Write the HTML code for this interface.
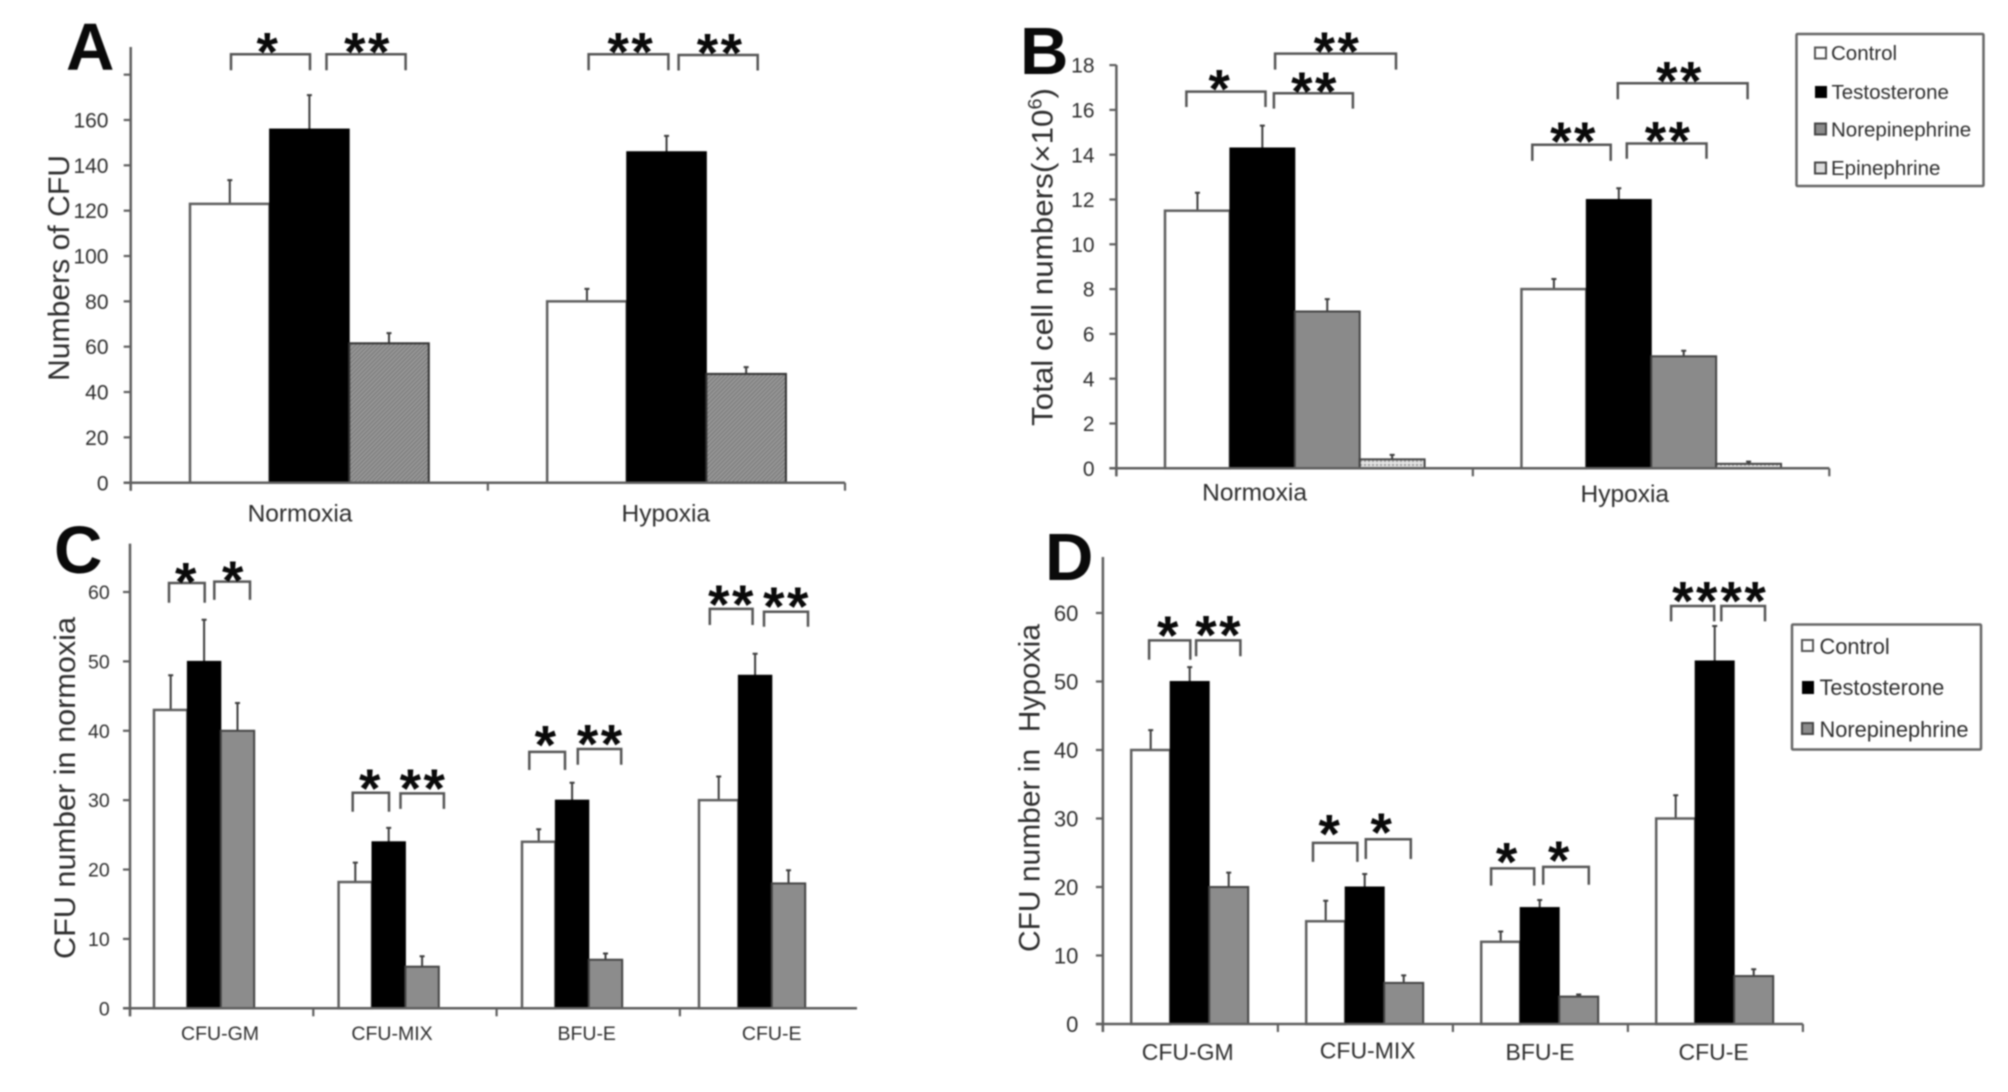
<!DOCTYPE html>
<html lang="en">
<head>
<meta charset="utf-8">
<title>CFU and total cell numbers under normoxia and hypoxia</title>
<style>
html,body{margin:0;padding:0;background:#fff;}
body{width:2008px;height:1092px;overflow:hidden;}
#figure{display:block;filter:blur(0.7px);}
text{font-family:"Liberation Sans",sans-serif;fill:#2e2e2e;}
.letter{font-weight:bold;font-size:67px;fill:#0a0a0a;}
.ytitle{font-size:30px;fill:#2e2e2e;}
.legend-box{fill:#fff;stroke:#666;stroke-width:2.5;}
</style>
</head>
<body>
<svg id="figure" xmlns="http://www.w3.org/2000/svg" width="2008" height="1092" viewBox="0 0 2008 1092">
  <defs>
    <pattern id="hatch" width="3" height="3" patternUnits="userSpaceOnUse" patternTransform="rotate(45)">
      <rect width="3" height="3" fill="#979797"></rect>
      <rect width="1" height="3" fill="#767676"></rect>
    </pattern>
    <pattern id="dots" width="4" height="4" patternUnits="userSpaceOnUse">
      <rect width="4" height="4" fill="#e4e4e4"></rect>
      <rect width="2" height="2" fill="#a0a0a0"></rect>
    </pattern>
  </defs>
  <rect width="2008" height="1092" fill="#fff"></rect>

  <g id="panel-a">
    <text class="letter" x="66" y="70">A</text>
    <text class="ytitle" transform="translate(69,381) rotate(-90)" textLength="226" lengthAdjust="spacingAndGlyphs">Numbers of CFU</text>
  </g>
  <g id="panel-b">
    <text class="letter" x="1020" y="74">B</text>
    <text class="ytitle" transform="translate(1052.5,426) rotate(-90)" textLength="338" lengthAdjust="spacingAndGlyphs">Total cell numbers(×10<tspan font-size="19" dy="-11">6</tspan><tspan dy="11">)</tspan></text>
  </g>
  <g id="panel-c">
    <text class="letter" x="54" y="573">C</text>
    <text class="ytitle" transform="translate(75,959) rotate(-90)" textLength="342" lengthAdjust="spacingAndGlyphs">CFU number in normoxia</text>
  </g>
  <g id="panel-d">
    <text class="letter" x="1045" y="580">D</text>
    <text class="ytitle" xml:space="preserve" style="white-space:pre" transform="translate(1039.5,952) rotate(-90)" textLength="328" lengthAdjust="spacingAndGlyphs">CFU number in  Hypoxia</text>
  </g>

  <g font-size="20.5">
    <rect class="legend-box" x="1796.5" y="34" width="187" height="152" rx="1"></rect>
    <g>
      <rect x="1815" y="47.5" width="11" height="11" fill="#fff" stroke="#555" stroke-width="2"></rect>
      <text x="1831" y="60">Control</text>
    </g>
    <g>
      <rect x="1815" y="86" width="12" height="12" fill="#000"></rect>
      <text x="1831.5" y="99">Testosterone</text>
    </g>
    <g>
      <rect x="1815" y="123.5" width="11" height="11" fill="#8c8c8c" stroke="#444" stroke-width="2"></rect>
      <text x="1831" y="136.5">Norepinephrine</text>
    </g>
    <g>
      <rect x="1815" y="162.5" width="11" height="11" fill="#ddd" stroke="#444" stroke-width="2"></rect>
      <text x="1831" y="175">Epinephrine</text>
    </g>
  </g>

  <g font-size="21.8">
    <rect class="legend-box" x="1792" y="624.5" width="189" height="125" rx="1"></rect>
    <g>
      <rect x="1802" y="640" width="11" height="11" fill="#fff" stroke="#555" stroke-width="2"></rect>
      <text x="1819.5" y="654">Control</text>
    </g>
    <g>
      <rect x="1802" y="681" width="12" height="13" fill="#000"></rect>
      <text x="1819.5" y="695">Testosterone</text>
    </g>
    <g>
      <rect x="1802" y="723" width="11" height="11" fill="#8c8c8c" stroke="#444" stroke-width="2"></rect>
      <text x="1819.5" y="737">Norepinephrine</text>
    </g>
  </g>
</svg>

<script>
// ---- Panel A data ----
const categoriesA = ['Normoxia', 'Hypoxia'];
const ticksA = [0, 20, 40, 60, 80, 100, 120, 140, 160, 180];
const tickLabelsA = ['0', '20', '40', '60', '80', '100', '120', '140', '160', ''];
const controlA = [123, 80];
const testosteroneA = [156, 146];
const norepinephrineA = [61.5, 48];
const controlErrA = [10.5, 5.5];
const testosteroneErrA = [15, 7];
const norepinephrineErrA = [4.5, 3];

// ---- Panel B data ----
const categoriesB = ['Normoxia', 'Hypoxia'];
const ticksB = [0, 2, 4, 6, 8, 10, 12, 14, 16, 18];
const tickLabelsB = ['0', '2', '4', '6', '8', '10', '12', '14', '16', '18'];
const controlB = [11.5, 8];
const testosteroneB = [14.3, 12];
const norepinephrineB = [7, 5];
const epinephrineB = [0.4, 0.2];
const controlErrB = [0.8, 0.45];
const testosteroneErrB = [1, 0.5];
const norepinephrineErrB = [0.55, 0.25];
const epinephrineErrB = [0.2, 0.1];

// ---- Panel C data ----
const categoriesC = ['CFU-GM', 'CFU-MIX', 'BFU-E', 'CFU-E'];
const ticksC = [0, 10, 20, 30, 40, 50, 60];
const tickLabelsC = ['0', '10', '20', '30', '40', '50', '60'];
const controlC = [43, 18.2, 24, 30];
const testosteroneC = [50, 24, 30, 48];
const norepinephrineC = [40, 6, 7, 18];
const controlErrC = [5, 2.8, 1.8, 3.4];
const testosteroneErrC = [6, 2, 2.5, 3.1];
const norepinephrineErrC = [4, 1.5, 0.9, 1.9];

// ---- Panel D data ----
const categoriesD = ['CFU-GM', 'CFU-MIX', 'BFU-E', 'CFU-E'];
const ticksD = [0, 10, 20, 30, 40, 50, 60];
const tickLabelsD = ['0', '10', '20', '30', '40', '50', '60'];
const controlD = [40, 15, 12, 30];
const testosteroneD = [50, 20, 17, 53];
const norepinephrineD = [20, 6, 4, 7];
const controlErrD = [2.9, 3, 1.5, 3.4];
const testosteroneErrD = [2.1, 1.9, 1.1, 5.1];
const norepinephrineErrD = [2.1, 1.1, 0.3, 1];

// ---- Layout (pixels, not data) ----
const SVGNS = 'http://www.w3.org/2000/svg';
const whiteStyle = {fill: '#fff', stroke: '#5f5f5f', sw: 2.5};
const blackStyle = {fill: '#000', stroke: '#000', sw: 1};
const panels = [
  {id: 'panel-a', x0: 130.7, x1: 845, band: 357.15, base: 482.7, axisTop: 47, refVal: 160, refY: 120, offset: 59.3, barW: 79.6,
   nudge: [0, 0], widen: [0, 0], fontTick: 21, labelRight: 108.5, fontCat: 24.5,
   cats: categoriesA, ticks: ticksA, tickLabels: tickLabelsA, catX: [300, 665.8], catY: [512.5, 512.5],
   series: [
     {v: controlA, e: controlErrA, s: whiteStyle},
     {v: testosteroneA, e: testosteroneErrA, s: blackStyle},
     {v: norepinephrineA, e: norepinephrineErrA, s: {fill: 'url(#hatch)', stroke: '#333', sw: 2}}]},
  {id: 'panel-b', x0: 1116.4, x1: 1829.3, band: 356.45, base: 468.3, axisTop: 65, refVal: 18, refY: 65.1, offset: 48.6, barW: 64.9,
   nudge: [0, 0], widen: [0, 0], fontTick: 21, labelRight: 1094.5, fontCat: 24.5,
   cats: categoriesB, ticks: ticksB, tickLabels: tickLabelsB, catX: [1254.6, 1624.8], catY: [491.6, 493.4],
   series: [
     {v: controlB, e: controlErrB, s: whiteStyle},
     {v: testosteroneB, e: testosteroneErrB, s: blackStyle},
     {v: norepinephrineB, e: norepinephrineErrB, s: {fill: '#8a8a8a', stroke: '#444', sw: 2}},
     {v: epinephrineB, e: epinephrineErrB, s: {fill: 'url(#dots)', stroke: '#444', sw: 2}}]},
  {id: 'panel-c', x0: 130, x1: 857, band: 183.3, base: 1008.3, axisTop: 543.6, refVal: 60, refY: 592, offset: 24, barW: 33.4,
   nudge: [0, 1.3, 1.4, 1.1], widen: [0, 0, 0, 6], fontTick: 19.5, labelRight: 109.7, fontCat: 19.5,
   cats: categoriesC, ticks: ticksC, tickLabels: tickLabelsC, catX: [220, 392, 586.7, 771.7], catY: [1032.9, 1032.9, 1032.9, 1032.9],
   series: [
     {v: controlC, e: controlErrC, s: whiteStyle},
     {v: testosteroneC, e: testosteroneErrC, s: blackStyle},
     {v: norepinephrineC, e: norepinephrineErrC, s: {fill: '#8c8c8c', stroke: '#444', sw: 2}}]},
  {id: 'panel-d', x0: 1102.9, x1: 1802.9, band: 175, base: 1024, axisTop: 557, refVal: 60, refY: 613, offset: 28.3, barW: 39,
   nudge: [0, 0, 0, 0], widen: [0, 0, 0, 0], fontTick: 22, labelRight: 1078.4, fontCat: 23,
   cats: categoriesD, ticks: ticksD, tickLabels: tickLabelsD, catX: [1187.7, 1367.7, 1540, 1713.6], catY: [1051.5, 1050.4, 1051.5, 1051.5],
   series: [
     {v: controlD, e: controlErrD, s: whiteStyle},
     {v: testosteroneD, e: testosteroneErrD, s: blackStyle},
     {v: norepinephrineD, e: norepinephrineErrD, s: {fill: '#8c8c8c', stroke: '#444', sw: 2}}]}
];

// Significance annotations: [x1, x2, top, bottom, label, labelX, labelY]
const annotations = {
  'panel-a': [
    [231, 310, 54.3, 70.3, '*', 268.5, 42.5],
    [326.5, 405.6, 54.3, 70.3, '**', 368, 42.5],
    [588.6, 668.4, 54.3, 70.3, '**', 631.4, 42.5],
    [678.6, 757.7, 55, 70.5, '**', 720.7, 43.5]],
  'panel-b': [
    [1186.4, 1265.5, 91.6, 107, '*', 1220.5, 79.4],
    [1273.9, 1352.9, 93.3, 108.6, '**', 1315, 81.8],
    [1275.1, 1396, 53.6, 69.6, '**', 1337.5, 41.8],
    [1532.3, 1610.7, 144.8, 160.9, '**', 1574, 132],
    [1626.8, 1706.5, 143.5, 158.8, '**', 1668.6, 131.6],
    [1617.8, 1747.6, 83.2, 99.2, '**', 1680, 71.4]],
  'panel-c': [
    [169, 204.7, 583, 602.8, '*', 186.9, 572.3],
    [214.3, 250, 581.6, 599.9, '*', 234, 571.2],
    [352.7, 389, 792.7, 811.7, '*', 371, 779],
    [400.5, 443.9, 793.4, 808.9, '**', 423.5, 779],
    [529.3, 565, 751.9, 770, '*', 546.6, 735.4],
    [577.8, 621.2, 749, 764.8, '**', 600.8, 734.3],
    [709.8, 752.6, 608.9, 625, '**', 732, 595.2],
    [764, 808, 611.7, 626.8, '**', 787, 597]],
  'panel-d': [
    [1149.1, 1190.3, 640.4, 659.7, '*', 1169, 626],
    [1196.1, 1240.4, 640.4, 656.2, '**', 1219.2, 625.3],
    [1313, 1357.4, 842.9, 861.9, '*', 1330.4, 824.6],
    [1365.8, 1410.8, 839.3, 859, '*', 1382.5, 822.8],
    [1491.1, 1534.2, 868.4, 885.6, '*', 1507.8, 852.6],
    [1543.2, 1588.8, 866.9, 884.8, '*', 1559.9, 851],
    [1671.1, 1714.2, 606, 621.4, '**', 1696, 591.6],
    [1721.3, 1765, 606, 621.4, '**', 1744.4, 591.6]]
};

function node(tag, attrs, parent) {
  const el = document.createElementNS(SVGNS, tag);
  for (const k in attrs) el.setAttribute(k, attrs[k]);
  parent.appendChild(el);
  return el;
}

const AXIS_COLOR = '#5f5f5f';

panels.forEach(function (p) {
  const g = document.getElementById(p.id);
  const k = (p.base - p.refY) / p.refVal;
  const yScale = function (v) { return p.base - v * k; };
  const bandLeft = function (i) { return p.x0 + p.band * i; };
  const barLeft = function (i, s) { return bandLeft(i) + p.offset + p.nudge[i] + s * p.barW; };

  // Error bars first so that bars overlap their foot
  p.series.forEach(function (ser, s) {
    ser.v.forEach(function (val, i) {
      const cx = barLeft(i, s) + p.barW / 2 - (s === 0 ? p.widen[i] / 2 : 0);
      const yTop = yScale(val + ser.e[i]);
      const err = node('path', {
        d: 'M' + cx + ' ' + yScale(val) + 'V' + yTop + 'M' + (cx - 2.5) + ' ' + yTop + 'H' + (cx + 2.5),
        fill: 'none', stroke: '#3c3c3c', 'stroke-width': 2
      }, g);
      
      
    });
  });

  // Bars
  p.series.forEach(function (ser, s) {
    ser.v.forEach(function (val, i) {
      const extra = s === 0 ? p.widen[i] : 0;
      const bar = node('rect', {
        x: barLeft(i, s) - extra,
        y: yScale(val),
        width: p.barW + extra,
        height: p.base - yScale(val),
        fill: ser.s.fill, stroke: ser.s.stroke, 'stroke-width': ser.s.sw
      }, g);
      
      
    });
  });

  // Y axis
  const yAxis = node('line', {x1: p.x0, x2: p.x0, y1: p.axisTop, y2: p.base + 8, stroke: AXIS_COLOR, 'stroke-width': 2.5}, g);
  
  
  p.ticks.forEach(function (t, i) {
    const y = yScale(t);
    const tick = node('line', {x1: p.x0 - 7, x2: p.x0, y1: y, y2: y, stroke: AXIS_COLOR, 'stroke-width': 2.2}, g);
    
    
    if (p.tickLabels[i] !== '') {
      const lab = node('text', {x: p.labelRight, y: y + p.fontTick * 0.36, 'text-anchor': 'end', 'font-size': p.fontTick}, g);
      lab.textContent = p.tickLabels[i];
      
      
    }
  });

  // X axis
  const xAxis = node('line', {x1: p.x0 - 7, x2: p.x1, y1: p.base, y2: p.base, stroke: AXIS_COLOR, 'stroke-width': 2.5}, g);
  
  
  for (let i = 0; i <= p.cats.length; i++) {
    const xt = bandLeft(i);
    if (xt > p.x1 + 1) continue;
    const xTick = node('line', {x1: xt, x2: xt, y1: p.base, y2: p.base + 8, stroke: AXIS_COLOR, 'stroke-width': 2.2}, g);
    
    
  }
  p.cats.forEach(function (name, i) {
    const cat = node('text', {x: p.catX[i], y: p.catY[i] + p.fontCat * 0.36, 'text-anchor': 'middle', 'font-size': p.fontCat}, g);
    cat.textContent = name;
    
    
  });

  // Significance brackets and stars
  annotations[p.id].forEach(function (a) {
    const br = node('path', {
      d: 'M' + a[0] + ' ' + a[3] + 'V' + a[2] + 'H' + a[1] + 'V' + a[3],
      fill: 'none', stroke: '#555', 'stroke-width': 2.5
    }, g);
    
    
    const star = node('text', {
      x: a[5], y: a[6] + 28, 'text-anchor': 'middle', 'font-size': 55, 'font-weight': 'bold', 'letter-spacing': 2.5, style: 'fill:#0a0a0a'
    }, g);
    star.textContent = a[4];
    
    
  });
});
</script>
</body>
</html>
